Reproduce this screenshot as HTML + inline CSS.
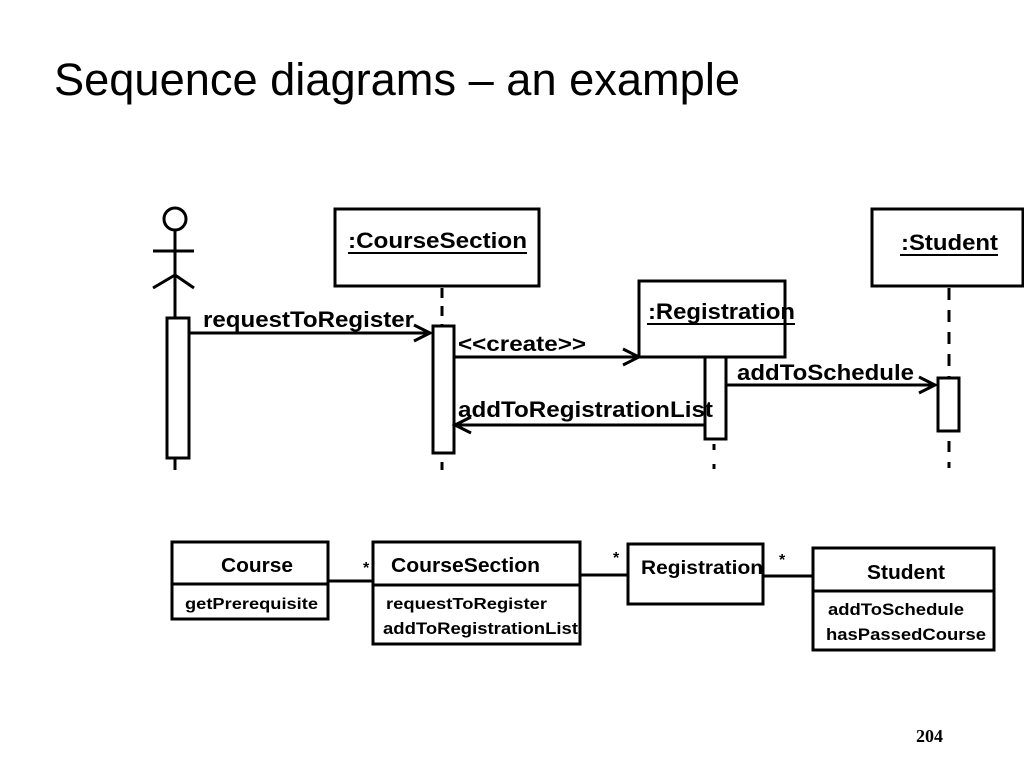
<!DOCTYPE html>
<html><head><meta charset="utf-8"><style>
html,body{margin:0;padding:0;background:#fff;}
svg{display:block;}
text{font-family:"Liberation Sans",sans-serif;fill:#000;}
</style></head><body>
<svg width="1024" height="768" viewBox="0 0 1024 768" xmlns="http://www.w3.org/2000/svg">
<text x="54" y="95" font-size="45" textLength="686" lengthAdjust="spacingAndGlyphs">Sequence diagrams – an example</text>
<g stroke="#000" stroke-width="3" fill="none">
<circle cx="175" cy="219" r="11"/>
<line x1="175" y1="230" x2="175" y2="318"/>
<line x1="153" y1="251" x2="194" y2="251"/>
<line x1="175" y1="275" x2="153" y2="288"/>
<line x1="175" y1="275" x2="194" y2="288"/>
<rect x="167" y="318" width="22" height="140" fill="#fff"/>
<line x1="175" y1="458" x2="175" y2="470"/>
<rect x="335" y="209" width="204" height="77"/>
<line x1="442" y1="288" x2="442" y2="325" stroke-dasharray="10,8"/>
<rect x="433" y="326" width="21" height="127" fill="#fff"/>
<line x1="442" y1="462" x2="442" y2="470"/>
<rect x="639" y="281" width="146" height="76"/>
<rect x="705" y="357" width="21" height="82" fill="#fff"/>
<line x1="714" y1="444" x2="714" y2="450"/>
<line x1="714" y1="464" x2="714" y2="469"/>
<rect x="872" y="209" width="151" height="77"/>
<line x1="949" y1="288" x2="949" y2="378" stroke-dasharray="12,10"/>
<rect x="938" y="378" width="21" height="53" fill="#fff"/>
<line x1="949" y1="441" x2="949" y2="452"/>
<line x1="949" y1="462" x2="949" y2="468"/>
<line x1="189" y1="333" x2="430" y2="333"/>
<polyline points="414,325 430,333 414,341"/>
<line x1="454" y1="357" x2="639" y2="357"/>
<polyline points="623,349 639,357 623,365"/>
<line x1="705" y1="425" x2="455" y2="425"/>
<polyline points="471,417 455,425 471,433"/>
<line x1="726" y1="385" x2="935" y2="385"/>
<polyline points="919,377 935,385 919,393"/>
<rect x="172" y="542" width="156" height="77"/>
<line x1="172" y1="584" x2="328" y2="584"/>
<rect x="373" y="542" width="207" height="102"/>
<line x1="373" y1="585" x2="580" y2="585"/>
<rect x="628" y="544" width="135" height="60"/>
<rect x="813" y="548" width="181" height="102"/>
<line x1="813" y1="591" x2="994" y2="591"/>
<line x1="328" y1="581" x2="373" y2="581"/>
<line x1="580" y1="575" x2="628" y2="575"/>
<line x1="763" y1="576" x2="813" y2="576"/>
</g>
<g font-weight="bold" font-size="22" lengthAdjust="spacingAndGlyphs">
<text x="348" y="248" textLength="179" lengthAdjust="spacingAndGlyphs">:CourseSection</text>
<line x1="348" y1="253" x2="527" y2="253" stroke="#000" stroke-width="2"/>
<text x="648" y="319" textLength="147" lengthAdjust="spacingAndGlyphs">:Registration</text>
<line x1="647" y1="324" x2="795" y2="324" stroke="#000" stroke-width="2"/>
<text x="901" y="250" textLength="97" lengthAdjust="spacingAndGlyphs">:Student</text>
<line x1="900" y1="255" x2="998" y2="255" stroke="#000" stroke-width="2"/>
<text x="203" y="327" textLength="211" lengthAdjust="spacingAndGlyphs">requestToRegister</text>
<text x="458" y="351" font-size="21" textLength="128" lengthAdjust="spacingAndGlyphs">&lt;&lt;create&gt;&gt;</text>
<text x="458" y="417" textLength="255" lengthAdjust="spacingAndGlyphs">addToRegistrationList</text>
<text x="737" y="380" textLength="177" lengthAdjust="spacingAndGlyphs">addToSchedule</text>
</g>
<g font-weight="bold">
<text x="221" y="572" font-size="20" textLength="72" lengthAdjust="spacingAndGlyphs">Course</text>
<text x="185" y="609" font-size="16" textLength="133" lengthAdjust="spacingAndGlyphs">getPrerequisite</text>
<text x="391" y="572" font-size="20" textLength="149" lengthAdjust="spacingAndGlyphs">CourseSection</text>
<text x="386" y="609" font-size="16" textLength="161" lengthAdjust="spacingAndGlyphs">requestToRegister</text>
<text x="383" y="634" font-size="17" textLength="195" lengthAdjust="spacingAndGlyphs">addToRegistrationList</text>
<text x="641" y="574" font-size="19" textLength="122" lengthAdjust="spacingAndGlyphs">Registration</text>
<text x="867" y="579" font-size="20" textLength="78" lengthAdjust="spacingAndGlyphs">Student</text>
<text x="828" y="615" font-size="17" textLength="136" lengthAdjust="spacingAndGlyphs">addToSchedule</text>
<text x="826" y="640" font-size="17" textLength="160" lengthAdjust="spacingAndGlyphs">hasPassedCourse</text>
<text x="363" y="573" font-size="16">*</text>
<text x="613" y="563" font-size="16">*</text>
<text x="779" y="565" font-size="16">*</text>
</g>
<text x="916" y="742" font-size="18" font-weight="bold" style="font-family:'Liberation Serif',serif">204</text>
</svg>
</body></html>
